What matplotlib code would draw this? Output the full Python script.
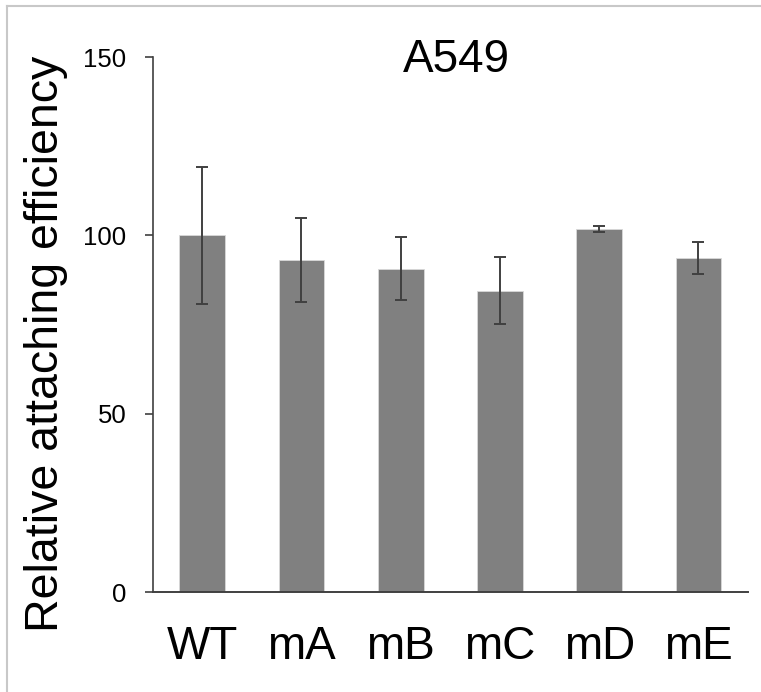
import matplotlib
matplotlib.use("Agg")
import matplotlib.pyplot as plt
import numpy as np

# values
groups = ['WT', 'mA', 'mB', 'mC', 'mD', 'mE']
means = [100.0, 93.0, 90.7, 84.5, 101.7, 93.6]
errors = [19.2, 11.8, 8.7, 9.3, 0.8, 4.5]
y_ticks = [0, 50, 100, 150]

plt.rcParams['font.family'] = ['Liberation Sans', 'DejaVu Sans']

fig = plt.figure(figsize=(7.61, 6.92), dpi=100)
ax = fig.add_axes([0.2005, 0.1445, 0.7825, 0.7731])

x = np.arange(len(groups))
ax.bar(x, means, width=0.46, color='#808080', edgecolor='#d9d9d9', linewidth=0.6,
       yerr=errors, capsize=4,
       error_kw=dict(ecolor='#404040', elinewidth=1.4, capthick=1.4))

ax.set_xlim(-0.5, 5.5)
ax.set_ylim(0, 150)
ax.set_yticks(y_ticks)
ax.set_xticks(x)
ax.set_xticklabels(groups, fontsize=33)
ax.tick_params(axis='y', labelsize=18.5, length=6, width=1.2, color='#404040', pad=13)
ax.tick_params(axis='x', length=0, pad=24)

for side in ['top', 'right']:
    ax.spines[side].set_visible(False)
ax.spines['left'].set_color('#404040')
ax.spines['left'].set_linewidth(1.2)
ax.spines['bottom'].set_color('#404040')
ax.spines['bottom'].set_linewidth(1.4)

# axis title placed by hand to match the original layout
fig.text(46 / 761, 1 - 344 / 692, 'Relative attaching efficiency', rotation=90,
         ha='center', va='center', fontsize=33.5)
ax.text(0.51, 0.995, 'A549', transform=ax.transAxes, ha='center', va='center', fontsize=33)

# light frame on left and top edges of the image
fig.add_artist(plt.Line2D([0.0092, 0.0092], [0, 0.9913], color='#c8c8c8', lw=1.5))
fig.add_artist(plt.Line2D([0.0092, 1.0], [0.9913, 0.9913], color='#c8c8c8', lw=1.5))

plt.savefig('out.png', dpi=100)
